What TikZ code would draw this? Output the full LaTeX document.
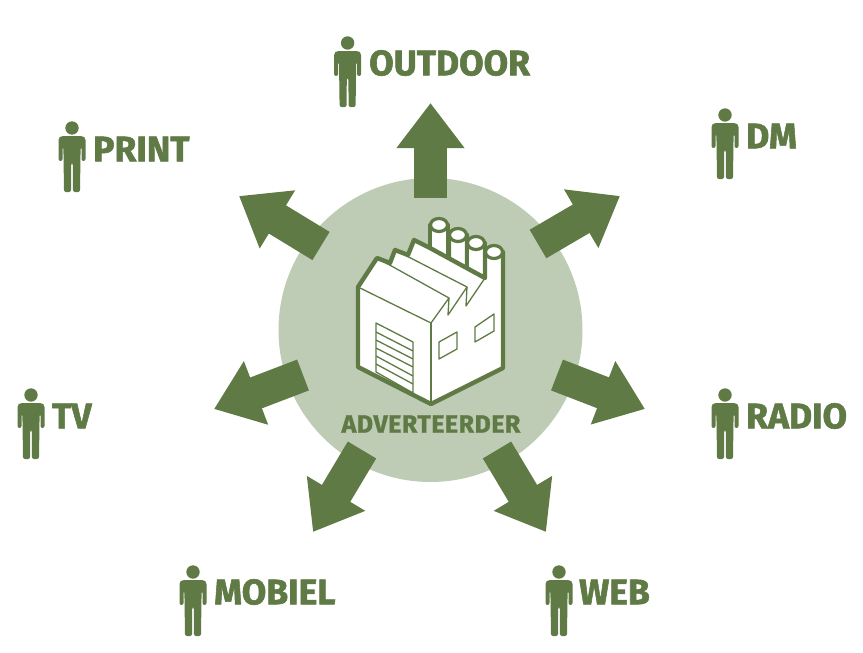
\documentclass[tikz,border=0pt]{standalone}
\usepackage{xcolor}
\usepackage{fontspec}
\setmainfont[BoldFeatures={FakeBold=1.6}]{Fira Sans}
\newfontfamily\widefont[LetterSpace=2,BoldFeatures={FakeBold=1.2}]{Fira Sans}
\usetikzlibrary{arrows.meta, positioning}
\definecolor{leaf}{HTML}{5F7A45}
\definecolor{pale}{HTML}{BFCCB5}

\begin{document}
\begin{tikzpicture}[
        x=1pt, y=-1pt,
        hub/.style={circle, fill=pale, minimum size=304pt, inner sep=0pt},
        channel/.style={anchor=west, inner sep=0pt, text=leaf, font=\fontsize{35.5}{35.5}\selectfont\bfseries},
        caption/.style={inner sep=0pt, text=leaf, font=\widefont\fontsize{25}{25}\selectfont\bfseries},
        arrow/.style={-{Triangle[length=45pt, width=65pt]}, line width=33pt, draw=leaf},
        heavy/.style={draw=leaf, line width=4.4pt, line join=round},
        thin/.style={draw=leaf, line width=1.3pt, line join=round},
        chimney/.style={heavy, fill=white},
        person/.pic={
            \fill [leaf] (0,0) circle (6.7);
            \fill [leaf, rounded corners=2pt] (-11,8) -- (11,8) -- (13.5,10) -- (13.5,33) -- (9.5,33) -- (9.5,19) -- (8.6,19)
                -- (8,64) -- (1,64) -- (0.8,35) -- (-0.8,35) -- (-1,64) -- (-8,64) -- (-8.6,19)
                -- (-9.5,19) -- (-9.5,33) -- (-13.5,33) -- (-13.5,10) -- cycle;
        }
    ]
        \useasboundingbox (0,0) rectangle (863,653);

        \node (hub) [hub] at (430.5,330) {};
        \node (adverteerder) [caption] at (431,424) {ADVERTEERDER};

        % channels round the circle
        \node (outdoor) [channel] at (369,63) {OUTDOOR};
        \node (print) [channel] at (93,149) {PRINT};
        \node (dm) [channel] at (746,136) {DM};
        \node (tv) [channel] at (52,416) {TV};
        \node (radio) [channel] at (746,416) {RADIO};
        \node (mobiel) [channel] at (214,592) {MOBIEL};
        \node (web) [channel] at (579,592) {WEB};

        \pic at (347.6,43) {person};
        \pic at (72,128) {person};
        \pic at (725,115) {person};
        \pic at (31,395) {person};
        \pic at (725,395) {person};
        \pic at (193,572) {person};
        \pic at (559,572) {person};

        % arrow ends
        \coordinate (outdoor_from) at (430.5,198);
        \coordinate (outdoor_to) at (430.5,103);
        \coordinate (print_from) at (321,246);
        \coordinate (print_to) at (239,196);
        \coordinate (dm_from) at (538,244);
        \coordinate (dm_to) at (620,196);
        \coordinate (tv_from) at (303,375);
        \coordinate (tv_to) at (214,409);
        \coordinate (radio_from) at (557,375);
        \coordinate (radio_to) at (645,409);
        \coordinate (mobiel_from) at (362,450);
        \coordinate (mobiel_to) at (313,532);
        \coordinate (web_from) at (497,450);
        \coordinate (web_to) at (546,532);

        \draw [arrow] (outdoor_from) -- (outdoor_to);
        \draw [arrow] (print_from) -- (print_to);
        \draw [arrow] (dm_from) -- (dm_to);
        \draw [arrow] (tv_from) -- (tv_to);
        \draw [arrow] (radio_from) -- (radio_to);
        \draw [arrow] (mobiel_from) -- (mobiel_to);
        \draw [arrow] (web_from) -- (web_to);

        % chimneys, back to front
        \draw [chimney] (430,270) -- (430,225) -- (448,225) -- (448,270) -- cycle;
        \draw [chimney, line width=3.2pt] (439,225) ellipse (8.5 and 6.5);
        \draw [chimney] (449,270) -- (449,235) -- (467,235) -- (467,280) -- cycle;
        \draw [chimney, line width=3.2pt] (458,235) ellipse (8.5 and 6.5);
        \draw [chimney] (467,285) -- (467,243) -- (485,243) -- (485,285) -- cycle;
        \draw [chimney, line width=3.2pt] (476,243) ellipse (8.5 and 6.5);

        % factory body
        \draw [heavy, fill=white] (358,287) -- (377,258) -- (390,263) -- (395,250) -- (408,255) -- (414,240)
            -- (430,248) -- (485,278) -- (485,252) -- (503,252) -- (503,368) -- (431,404) -- (358,367) -- cycle;
        \draw [chimney, line width=3.2pt] (494,252) ellipse (8.5 and 6.5);
        \draw [thin] (358,287) -- (431,323) -- (449,298) -- (377,258);
        \draw [thin] (431,323) -- (431,404);
        \draw [thin] (449,298) -- (448,315) -- (467,287) -- (395,250);
        \draw [thin] (467,287) -- (466,306) -- (485,278) -- (414,240);

        % roller door and windows
        \draw [thin] (376,323) -- (413,342) -- (413,393) -- (376,372) -- cycle;
        \draw [thin] (376,332) -- (413,351);
        \draw [thin] (376,340) -- (413,359);
        \draw [thin] (376,348) -- (413,367);
        \draw [thin] (376,356) -- (413,376);
        \draw [thin] (376,364) -- (413,384);
        \draw [thin] (439,342) -- (457,332) -- (457,349) -- (439,359) -- cycle;
        \draw [thin] (475,327) -- (494,314) -- (494,331) -- (475,342) -- cycle;
\end{tikzpicture}
\end{document}
